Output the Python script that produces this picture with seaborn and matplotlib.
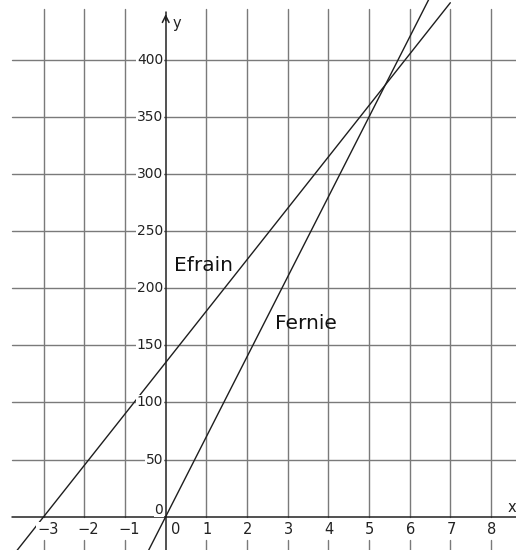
import matplotlib
matplotlib.use("Agg")
import matplotlib.pyplot as plt
import seaborn as sns
import pandas as pd

# Two cost lines, given by points at either end of the visible window
efrain_x = [-4.0, 7.0]
efrain_y = [-45, 450]
fernie_x = [-0.5, 6.5]
fernie_y = [-35, 455]

x_ticks = [-3, -2, -1, 0, 1, 2, 3, 4, 5, 6, 7, 8]
y_ticks = [0, 50, 100, 150, 200, 250, 300, 350, 400]

sns.set_theme(style="white")
plt.rcParams["font.family"] = ["DejaVu Sans"]

fig = plt.figure(figsize=(5.16, 5.5), dpi=100)
ax = fig.add_axes([0, 0, 1, 1])
ax.set_xlim(-4.075, 8.615)
ax.set_ylim(-29.2, 452.4)
ax.axis("off")

grid_c = "#7a7a7a"
x_left = -3.78
y_top = 444.1

# grid
for xv in x_ticks:
    if xv == 0:
        continue
    ax.plot([xv, xv], [0, y_top], color=grid_c, lw=1.0, zorder=1)
    ax.plot([xv, xv], [-20.4, -29.2], color=grid_c, lw=1.0, zorder=1)
for yv in y_ticks[1:]:
    ax.plot([x_left, 8.7], [yv, yv], color=grid_c, lw=1.0, zorder=1)

# axes
ax.plot([x_left, 8.7], [0, 0], color="#222222", lw=1.1, zorder=2)
ax.plot([0, 0], [-29.2, 441.5], color="#222222", lw=1.1, zorder=2)
ax.annotate("", xy=(0, 442.5), xytext=(0, 432),
            arrowprops=dict(arrowstyle="->", color="#222222", lw=1.1,
                            mutation_scale=12), zorder=2)
ax.text(0.17, 432, "y", fontsize=10.5, ha="left", va="center", color="#222222")
ax.text(8.42, 8, "x", fontsize=10.5, ha="left", va="center", color="#222222")

# data lines
df = pd.DataFrame({
    "x": efrain_x + fernie_x,
    "y": efrain_y + fernie_y,
    "name": ["Efrain"] * len(efrain_x) + ["Fernie"] * len(fernie_x),
})
sns.lineplot(data=df, x="x", y="y", hue="name", palette=["#1e1e1e", "#1e1e1e"],
             lw=1.0, legend=False, ax=ax, zorder=3)

# tick labels
box = dict(facecolor="white", edgecolor="none", pad=0.5)
for xv in x_ticks:
    lab = str(xv).replace("-", "\u2212")
    xo = 0.24 if xv == 0 else 0.1 if xv < 0 else 0.02
    ax.text(xv + xo, -11.6, lab, fontsize=10.5, ha="center", va="center",
            color="#222222", bbox=box, zorder=4)
for yv in y_ticks:
    yo = 6 if yv == 0 else 0
    ax.text(-0.06, yv + yo, str(yv), fontsize=10, ha="right", va="center",
            color="#222222", bbox=box, zorder=4)

# line names
ax.text(0.2, 220, "Efrain", fontsize=14.5, ha="left", va="center", color="#111111")
ax.text(2.69, 168.7, "Fernie", fontsize=14.5, ha="left", va="center", color="#111111")

fig.savefig("out.png", dpi=100)
